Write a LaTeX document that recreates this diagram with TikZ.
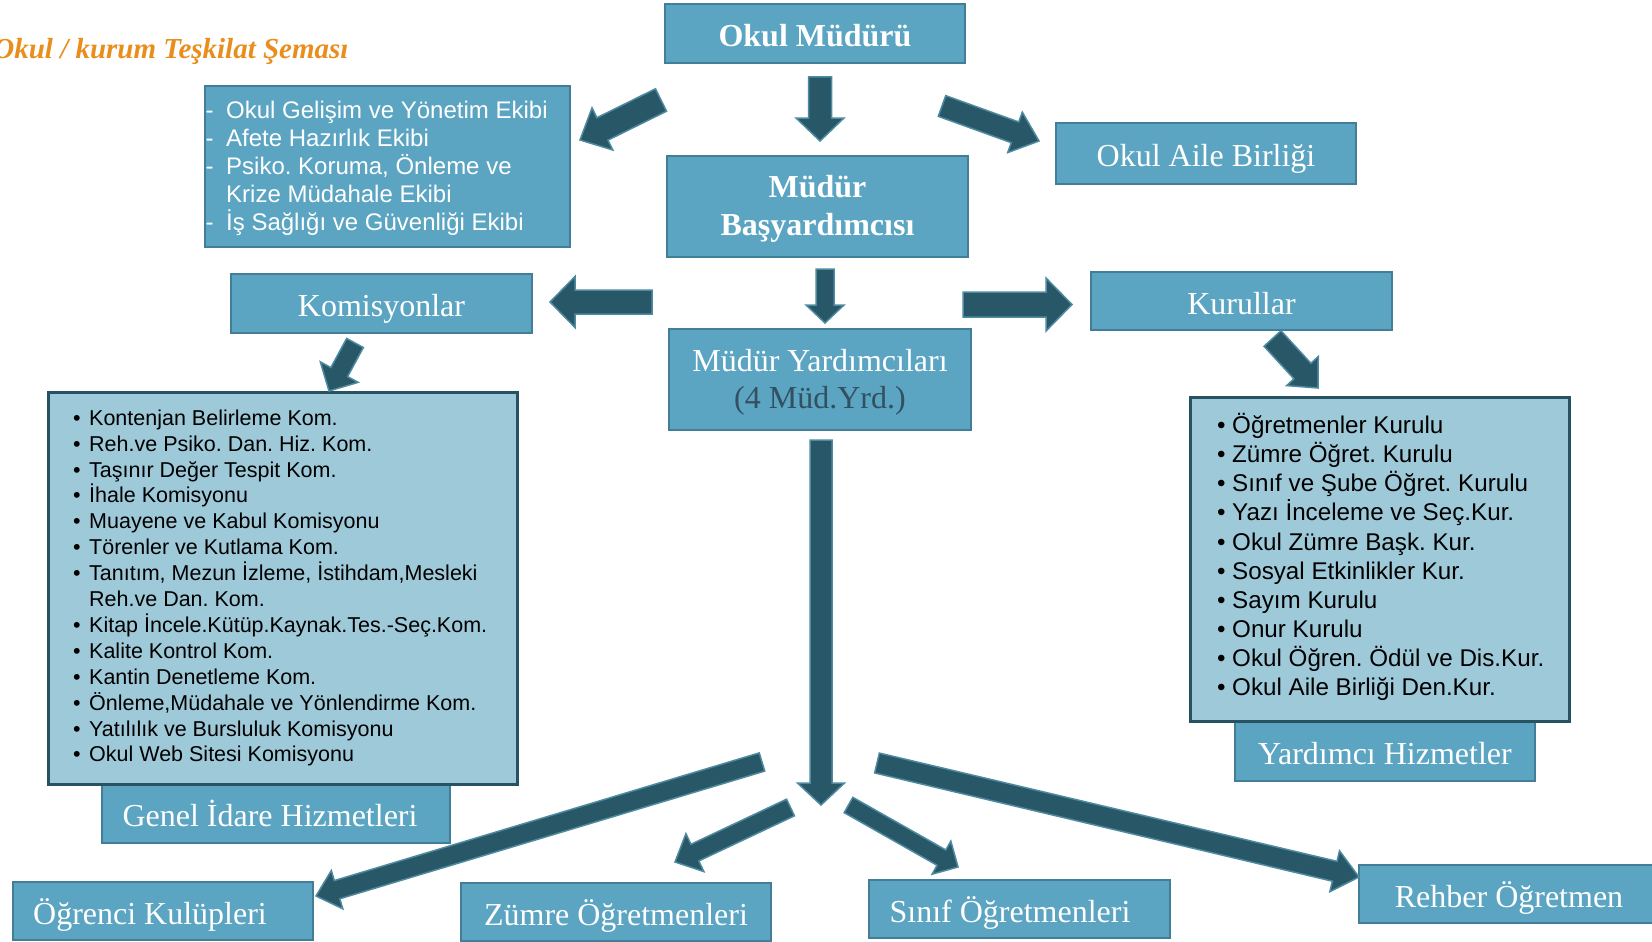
\documentclass[tikz,border=0pt]{standalone}
\usepackage{fontspec}
\setmainfont{Liberation Serif}
\setsansfont{Liberation Sans}
\usetikzlibrary{calc,positioning}
\frenchspacing

\definecolor{boxfill}{RGB}{91,165,194}
\definecolor{boxline}{RGB}{66,126,151}
\definecolor{listfill}{RGB}{158,201,217}
\definecolor{listline}{RGB}{38,82,98}
\definecolor{arrowfill}{RGB}{40,88,104}
\definecolor{arrowline}{RGB}{78,138,160}
\definecolor{titleorange}{RGB}{233,142,28}
\definecolor{darktext}{RGB}{50,80,95}

% block arrow: from, to, half shaft, half head, head length
\newcommand{\blockarrow}[5]{%
  \coordinate (ba-h) at ($(#2)!#5pt!(#1)$);
  \filldraw[arrowstyle] ($(#1)!#3pt!90:(#2)$) -- ($(ba-h)!#3pt!90:(#2)$)
    -- ($(ba-h)!#4pt!90:(#2)$) -- (#2) -- ($(ba-h)!#4pt!-90:(#2)$)
    -- ($(ba-h)!#3pt!-90:(#2)$) -- ($(#1)!#3pt!-90:(#2)$) -- cycle;}
\newcommand{\itm}{\makebox[16pt][l]{\textbullet}}
\newcommand{\itmk}{\makebox[15pt][l]{\textbullet}}
\newcommand{\dsh}{\makebox[20.5pt][l]{-}}

\begin{document}
\begin{tikzpicture}[x=1pt,y=-1pt,
  box/.style={draw=boxline, line width=2pt, fill=boxfill, text=white, inner sep=0pt,
    outer sep=0pt, anchor=north west, align=center, font=\fontsize{32}{37}\selectfont},
  onebox/.style={box, text height=26pt, text depth=0pt},
  listbox/.style={draw=listline, line width=3pt, fill=listfill, inner sep=0pt,
    outer sep=0pt, anchor=north west},
  listtext/.style={inner sep=0pt, align=left},
  arrowstyle/.style={fill=arrowfill, draw=arrowline, line width=1.5pt}]

    \useasboundingbox (0,0) rectangle (1652,942);

    % Title
    \node[anchor=base east, text=titleorange,
      font=\fontsize{29}{34}\selectfont\bfseries\itshape] (title) at (352,59)
      {Okul / kurum Teşkilat Şeması};

    % Upper boxes
    \node[onebox, minimum width=300pt, minimum height=59pt,
      font=\fontsize{32}{37}\selectfont\bfseries] (mudur) at (665,4) {Okul Müdürü};
    \node[box, minimum width=365pt, minimum height=161pt] (ekip) at (205,86) {};
    \node[listtext, text=white, font=\sffamily\fontsize{24}{27.9}\selectfont,
      right=0.5pt of ekip.west, yshift=-2pt] (ekiptext)
      {\dsh Okul Gelişim ve Yönetim Ekibi\\
       \dsh Afete Hazırlık Ekibi\\
       \dsh Psiko. Koruma, Önleme ve\\
       \makebox[20.5pt]{}Krize Müdahale Ekibi\\
       \dsh İş Sağlığı ve Güvenliği Ekibi};
    \node[box, minimum width=301pt, minimum height=101pt, text depth=3pt,
      font=\fontsize{32}{38}\selectfont\bfseries] (basyrd) at (667,156) {Müdür\\Başyardımcısı};
    \node[onebox, minimum width=300pt, minimum height=61pt] (aile) at (1056,123) {Okul Aile Birliği};

    % Middle boxes
    \node[onebox, minimum width=301pt, minimum height=59pt] (komisyon) at (231,274) {Komisyonlar};
    \node[onebox, minimum width=301pt, minimum height=58pt] (kurul) at (1091,272) {Kurullar};
    \node[box, minimum width=302pt, minimum height=101pt, text depth=2pt] (yrd) at (669,329)
      {Müdür Yardımcıları\\\textcolor{darktext}{(4 Müd.Yrd.)}};

    % Lists
    \node[onebox, minimum width=348pt, minimum height=59pt] (genel) at (102,784)
      {Genel İdare Hizmetleri\hspace*{12pt}};
    \node[listbox, minimum width=469pt, minimum height=392pt] (komlist) at (48,392) {};
    \node[listtext, font=\sffamily\fontsize{21.5}{25.9}\selectfont,
      right=25pt of komlist.west] (komtext)
      {\itm Kontenjan Belirleme Kom.\\
       \itm Reh.ve Psiko. Dan. Hiz. Kom.\\
       \itm Taşınır Değer Tespit Kom.\\
       \itm İhale Komisyonu\\
       \itm Muayene ve Kabul Komisyonu\\
       \itm Törenler ve Kutlama Kom.\\
       \itm Tanıtım, Mezun İzleme, İstihdam,Mesleki\\
       \makebox[16pt]{}Reh.ve Dan. Kom.\\
       \itm Kitap İncele.Kütüp.Kaynak.Tes.-Seç.Kom.\\
       \itm Kalite Kontrol Kom.\\
       \itm Kantin Denetleme Kom.\\
       \itm Önleme,Müdahale ve Yönlendirme Kom.\\
       \itm Yatılılık ve Bursluluk Komisyonu\\
       \itm Okul Web Sitesi Komisyonu};
    \node[onebox, minimum width=300pt, minimum height=60pt] (yrdhiz) at (1235,721) {Yardımcı Hizmetler};
    \node[listbox, minimum width=379pt, minimum height=324pt] (kurlist) at (1190,397) {};
    \node[listtext, font=\sffamily\fontsize{24.2}{29.1}\selectfont,
      right=27pt of kurlist.west, yshift=2pt] (kurtext)
      {\itmk Öğretmenler Kurulu\\
       \itmk Zümre Öğret. Kurulu\\
       \itmk Sınıf ve Şube Öğret. Kurulu\\
       \itmk Yazı İnceleme ve Seç.Kur.\\
       \itmk Okul Zümre Başk. Kur.\\
       \itmk Sosyal Etkinlikler Kur.\\
       \itmk Sayım Kurulu\\
       \itmk Onur Kurulu\\
       \itmk Okul Öğren. Ödül ve Dis.Kur.\\
       \itmk Okul Aile Birliği Den.Kur.};

    % Bottom boxes
    \node[onebox, minimum width=300pt, minimum height=58pt] (kulup) at (13,882)
      {Öğrenci Kulüpleri\hspace*{26pt}};
    \node[onebox, minimum width=310pt, minimum height=58pt] (zumre) at (461,883) {Zümre Öğretmenleri};
    \node[onebox, minimum width=301pt, minimum height=58pt] (sinif) at (869,880)
      {Sınıf Öğretmenleri\hspace*{19pt}};
    \node[onebox, minimum width=300pt, minimum height=58pt] (rehber) at (1359,865) {Rehber Öğretmen};

    % Arrow ends
    \coordinate (a1s) at (661,100);    \coordinate (a1e) at (580,140);
    \coordinate (a2s) at (820,77);     \coordinate (a2e) at (820,141);
    \coordinate (a3s) at (942,106);    \coordinate (a3e) at (1039,141);
    \coordinate (a4s) at (652,302);    \coordinate (a4e) at (550,302);
    \coordinate (a5s) at (825,269);    \coordinate (a5e) at (825,323);
    \coordinate (a6s) at (963,304.5);  \coordinate (a6e) at (1072,304.5);
    \coordinate (a7s) at (355,343);    \coordinate (a7e) at (329,391);
    \coordinate (a8s) at (1272.5,338.5); \coordinate (a8e) at (1318,388);
    \coordinate (a9s) at (821,440);    \coordinate (a9e) at (821,805);
    \coordinate (b1s) at (762,762);    \coordinate (b1e) at (316,896);
    \coordinate (b2s) at (790.5,807.5); \coordinate (b2e) at (675,862);
    \coordinate (b3s) at (848.5,805);  \coordinate (b3e) at (958,867);
    \coordinate (b4s) at (877,763);    \coordinate (b4e) at (1359,877);

    % Draw the arrows
    \blockarrow{a1s}{a1e}{12.5}{23.5}{25}
    \blockarrow{a2s}{a2e}{11.5}{24}{23}
    \blockarrow{a3s}{a3e}{11}{21.5}{25.5}
    \blockarrow{a4s}{a4e}{12}{25.5}{25}
    \blockarrow{a5s}{a5e}{9}{19}{18}
    \blockarrow{a6s}{a6e}{12.5}{26.5}{26}
    \blockarrow{a7s}{a7e}{9.5}{21.5}{21.5}
    \blockarrow{a8s}{a8e}{11.5}{21.5}{23}
    \blockarrow{a9s}{a9e}{11}{23.5}{22}
    \blockarrow{b1s}{b1e}{9.5}{20}{22}
    \blockarrow{b2s}{b2e}{9.2}{21}{22}
    \blockarrow{b3s}{b3e}{8.8}{19}{19}
    \blockarrow{b4s}{b4e}{10.2}{21}{25}

\end{tikzpicture}
\end{document}
